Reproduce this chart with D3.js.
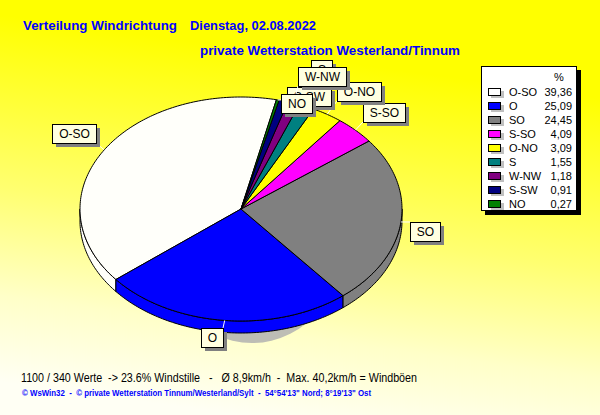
<!DOCTYPE html>
<html><head><meta charset="utf-8">
<script src="https://cdn.jsdelivr.net/npm/d3@7"></script>
<style>html,body{margin:0;padding:0;overflow:hidden;background:#fff}svg{display:block}</style>
</head><body>
<svg id="c" width="600" height="415"></svg>
<script>
// ---- data ----
const categories = ["O-SO","O","SO","S-SO","O-NO","S","W-NW","S-SW","NO"];
const percentages = [39.36,25.09,24.45,4.09,3.09,1.55,1.18,0.91,0.27];
const valueLabels = ["39,36","25,09","24,45","4,09","3,09","1,55","1,18","0,91","0,27"];
const sliceColors = ["#fffffa","#0000ff","#808080","#ff00ff","#ffff00","#008080","#800080","#000080","#008000"];
const titleLeft = "Verteilung Windrichtung";
const titleDate = "Dienstag, 02.08.2022";
const subtitle = "private Wetterstation Westerland/Tinnum";
const statsLine = "1100 / 340 Werte  -> 23.6% Windstille   -   Ø 8,9km/h  -  Max. 40,2km/h = Windböen";
const footerLine = "© WsWin32  -  © private Wetterstation Tinnum/Westerland/Sylt  -  54°54'13\" Nord; 8°19'13\" Ost";
const legendHeader = "%";

// ---- layout ----
const W = 600, H = 415;
const FONT = "'Liberation Sans', Arial, sans-serif";
const P = {cx: 241, cy: 209, rx: 161, ry: 112, depth: 12, start: 12.7 * Math.PI / 180};
// label nudges (box top-left relative to slice edge anchor), and paint order
const labelOffsets = [[-52,-26],[-24,8],[9,0],[8,-27],[10,-32],[5,-47],[4,-36],[3,-14],[3,-6]];
const labelOrder = [0,1,2,3,4,5,7,6,8];

const svg = d3.select("#c");
const defs = svg.append("defs");
const grad = defs.append("linearGradient").attr("id","bg")
  .attr("x1","0.6").attr("y1","0").attr("x2","0.4").attr("y2","1");
[["0%","#ffff00"],["15%","#ffff00"],["55%","#ffff70"],["80%","#ffffc8"],["100%","#fffff4"]]
  .forEach(s => grad.append("stop").attr("offset", s[0]).attr("stop-color", s[1]));
svg.append("rect").attr("width", W).attr("height", H).attr("fill", "url(#bg)");

// titles
svg.append("text").attr("x", 23).attr("y", 30).attr("font-family", FONT).attr("font-weight", "bold")
  .attr("font-size", 13).attr("fill", "#0000ff").attr("textLength", 154).attr("lengthAdjust", "spacingAndGlyphs").text(titleLeft);
svg.append("text").attr("x", 190).attr("y", 30).attr("font-family", FONT).attr("font-weight", "bold")
  .attr("font-size", 13).attr("fill", "#0000ff").attr("textLength", 126).attr("lengthAdjust", "spacingAndGlyphs").text(titleDate);
svg.append("text").attr("x", 200).attr("y", 55).attr("font-family", FONT).attr("font-weight", "bold")
  .attr("font-size", 13).attr("fill", "#0000ff").attr("textLength", 260).attr("lengthAdjust", "spacingAndGlyphs").text(subtitle);

// ---- pie ----
const pie = d3.pie().value(d => d).sort(null).startAngle(P.start).endAngle(P.start - 2 * Math.PI);
const arcs = pie(percentages);
const xS = d3.scaleLinear().domain([-1, 1]).range([P.cx - P.rx, P.cx + P.rx]);
const yS = d3.scaleLinear().domain([-1, 1]).range([P.cy - P.ry, P.cy + P.ry]);
const pt = (a, dy = 0) => [xS(Math.sin(a)), yS(-Math.cos(a)) + dy];
function arcPts(a0, a1, dy) {
  const n = Math.max(2, Math.ceil(Math.abs(a1 - a0) / (Math.PI / 180)));
  return d3.range(n + 1).map(i => pt(a0 + (a1 - a0) * i / n, dy));
}
const line = d3.line();
const pieG = svg.append("g");

// shadow
pieG.append("ellipse").attr("cx", P.cx + 11).attr("cy", P.cy + 12).attr("rx", 100).attr("ry", 122)
  .attr("fill", "#bdbdb5");

// sides (front half)
const fronts = [[Math.PI / 2 - 2 * Math.PI, 3 * Math.PI / 2 - 2 * Math.PI], [Math.PI / 2, 3 * Math.PI / 2]];
arcs.forEach((a, i) => {
  const lo = a.endAngle, hi = a.startAngle;
  fronts.forEach(([f0, f1]) => {
    const s = Math.max(lo, f0), e = Math.min(hi, f1);
    if (e > s) {
      const top = arcPts(s, e, 0), bot = arcPts(e, s, P.depth);
      pieG.append("path").attr("d", line(top.concat(bot)) + "Z")
        .attr("fill", sliceColors[i]).attr("stroke", "#000").attr("stroke-width", 1)
        .attr("stroke-linejoin", "round");
    }
  });
});
// tops
arcs.forEach((a, i) => {
  const pts = [[P.cx, P.cy]].concat(arcPts(a.startAngle, a.endAngle, 0));
  pieG.append("path").attr("d", line(pts) + "Z")
    .attr("fill", sliceColors[i]).attr("stroke", "#000").attr("stroke-width", 1)
    .attr("stroke-linejoin", "round");
});

// ---- labels ----
const labG = svg.append("g");
labelOrder.forEach(i => {
  const a = arcs[i];
  const mid = (a.startAngle + a.endAngle) / 2;
  const [ax, ay] = pt(mid, 0);
  const bx = Math.round(ax + labelOffsets[i][0]), by = Math.round(ay + labelOffsets[i][1]);
  const g = labG.append("g");
  const t = g.append("text").attr("font-family", FONT).attr("font-size", 12).attr("fill", "#000")
    .attr("text-anchor", "middle").text(categories[i]);
  const tw = t.node().getComputedTextLength();
  const bw = Math.round(tw + 13), bh = 19;
  const lx = Math.max(bx, Math.min(bx + bw, ax)), ly = Math.max(by, Math.min(by + bh, ay));
  g.insert("line", "text").attr("x1", ax).attr("y1", ay).attr("x2", lx).attr("y2", ly)
    .attr("stroke", "#fff").attr("stroke-width", 1);
  g.insert("rect", "text").attr("x", bx + 4).attr("y", by + 4).attr("width", bw).attr("height", bh).attr("fill", "#808080");
  g.insert("rect", "text").attr("x", bx + 0.5).attr("y", by + 0.5).attr("width", bw).attr("height", bh)
    .attr("fill", "#ffffe1").attr("stroke", "#000").attr("stroke-width", 1);
  t.attr("x", bx + 0.5 + bw / 2).attr("y", by + 14);
});

// ---- legend ----
const L = {x: 481, y: 66, w: 95, h: 144, row0: 92, step: 14};
const legG = svg.append("g");
legG.append("rect").attr("x", L.x + 4).attr("y", L.y + 4).attr("width", L.w + 1).attr("height", L.h + 1).attr("fill", "#000");
legG.append("rect").attr("x", L.x + 0.5).attr("y", L.y + 0.5).attr("width", L.w).attr("height", L.h)
  .attr("fill", "#fff").attr("stroke", "#000");
legG.append("text").attr("x", 559).attr("y", 81).attr("font-family", FONT).attr("font-size", 11)
  .attr("text-anchor", "middle").text(legendHeader);
const rowY = d3.scaleLinear().domain([0, 1]).range([L.row0, L.row0 + L.step]);
categories.forEach((c, i) => {
  const y = rowY(i);
  legG.append("rect").attr("x", 491).attr("y", Math.round(y) - 1).attr("width", 13).attr("height", 7).attr("fill", "#c0c0c0");
  legG.append("rect").attr("x", 488.5).attr("y", Math.round(y) - 3.5).attr("width", 12).attr("height", 7)
    .attr("fill", sliceColors[i] === "#fffffa" ? "#fff" : sliceColors[i]).attr("stroke", "#000");
  legG.append("text").attr("x", 509).attr("y", y + 4).attr("font-family", FONT).attr("font-size", 11).text(c);
  legG.append("text").attr("x", 572).attr("y", y + 4).attr("font-family", FONT).attr("font-size", 11)
    .attr("text-anchor", "end").text(valueLabels[i]);
});

// ---- bottom texts ----
svg.append("text").attr("x", 21).attr("y", 382).attr("font-family", FONT).attr("font-size", 12)
  .attr("fill", "#000").style("white-space", "pre")
  .attr("textLength", 396).attr("lengthAdjust", "spacingAndGlyphs").text(statsLine);
svg.append("text").attr("x", 22).attr("y", 396).attr("font-family", FONT).attr("font-size", 9)
  .attr("font-weight", "bold").attr("fill", "#0000ff").style("white-space", "pre")
  .attr("textLength", 349).attr("lengthAdjust", "spacingAndGlyphs").text(footerLine);
</script>
</body></html>
